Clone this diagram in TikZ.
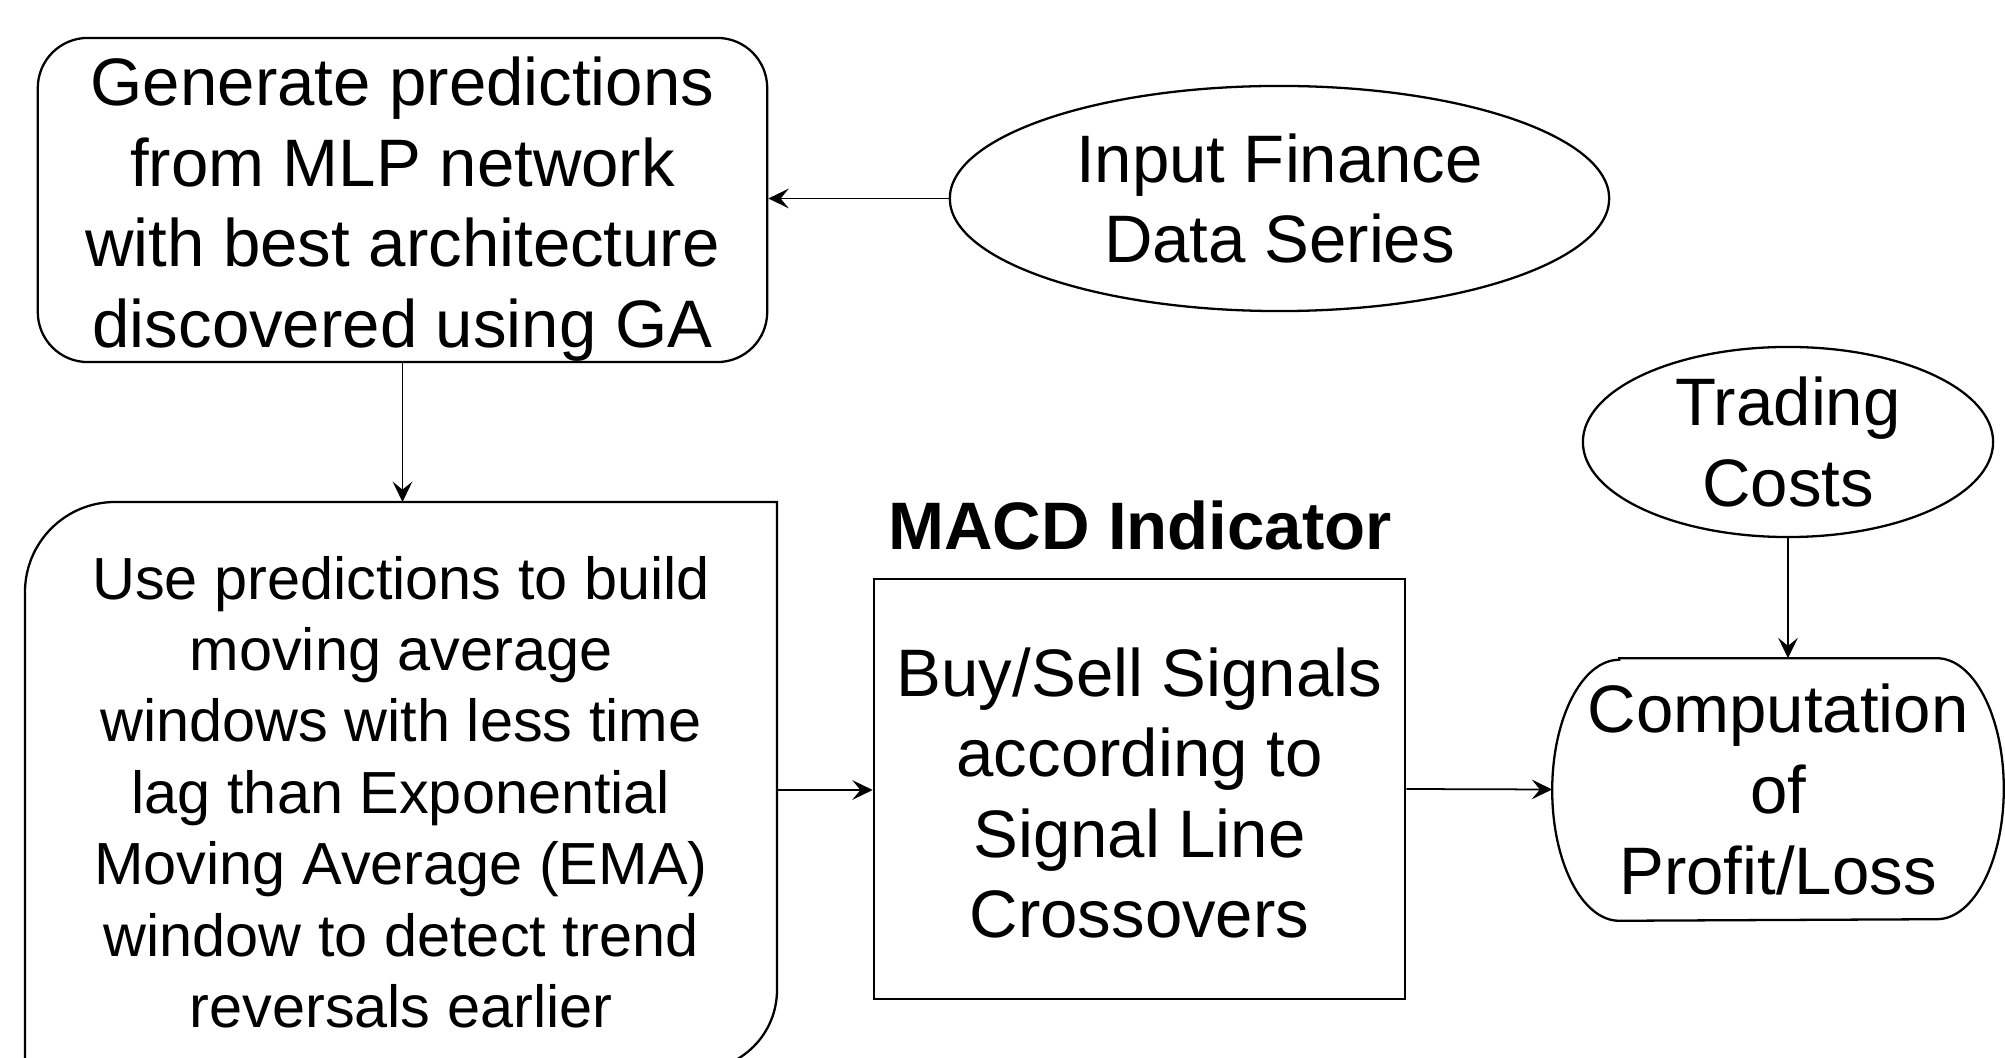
\documentclass[tikz,border=0pt]{standalone}
\usepackage{fontspec}
\setmainfont{Liberation Sans}
\usetikzlibrary{shapes.geometric,arrows.meta}
\tikzset{
  bigtext/.style={font=\fontsize{19.1}{22.9}\selectfont, align=center},
  smalltext/.style={font=\fontsize{16.9}{20.3}\selectfont, align=center},
  outline/.style={draw, line width=0.65pt},
  link/.style={-{Stealth[length=5.8pt,width=5.6pt,inset=2.3pt]}, line width=0.5pt},
}
\begin{document}
\begin{tikzpicture}[x=0.01cm, y=0.01cm]
  \useasboundingbox (0,0) rectangle (2005,1057);
  \clip (0,0) rectangle (2005,1057);
  \draw
    (402.5,857) node[outline, bigtext, rounded corners=0.5cm, minimum width=7.29cm, minimum height=3.24cm, inner sep=0pt] (gen) {\rule{0pt}{19pt}Generate predictions\\from MLP network\\with best architecture\\discovered using GA}
    (1279.5,858.5) node[outline, bigtext, ellipse, minimum width=6.59cm, minimum height=2.25cm, inner sep=0pt] (input) {Input Finance\\Data Series}
    (401,265) node[smalltext] (use) {Use predictions to build\\moving average\\windows with less time\\lag than Exponential\\Moving Average (EMA)\\window to detect trend\\reversals earlier}
    (1140,532) node[bigtext, font=\fontsize{19.1}{22.9}\selectfont\bfseries] (macd) {MACD Indicator}
    (1139.5,268) node[outline, bigtext, minimum width=5.31cm, minimum height=4.2cm, inner sep=0pt] (buy) {\rule{0pt}{16pt}Buy/Sell Signals\\according to\\Signal Line\\Crossovers}
    (1788,615) node[outline, bigtext, ellipse, minimum width=4.1cm, minimum height=1.9cm, inner sep=0pt] (trade) {Trading\\Costs}
    (1778,267.5) node[bigtext, minimum width=4.5cm, minimum height=2.61cm, inner sep=0pt] (comp) {Computation\\of\\Profit/Loss};
  \coordinate (usetop) at (401,555);
  \coordinate (useright) at (777,267);
  \draw[outline] (25,-13) -- (25,465) arc[start angle=180, end angle=90, radius=90]
    -- (777,555) -- (777,67) arc[start angle=0, end angle=-90, radius=80] -- cycle;
  \draw[outline] ([xshift=0.67cm]comp.north west) -- ([xshift=-0.67cm]comp.north east)
    arc[start angle=90, end angle=-90, x radius=67, y radius=130.5]
    -- ([xshift=0.67cm]comp.south west)
    arc[start angle=270, end angle=90, x radius=67, y radius=130.5] -- cycle;
  \begin{scope}[link]
    \draw (input.west) to (input.west -| gen.east);
    \draw (gen.south) to (gen.south |- usetop);
    \draw (useright) to (useright -| buy.west);
    \draw (buy.east) to (comp.west);
    \draw (trade.south) to (trade.south |- comp.north);
  \end{scope}
\end{tikzpicture}
\end{document}
